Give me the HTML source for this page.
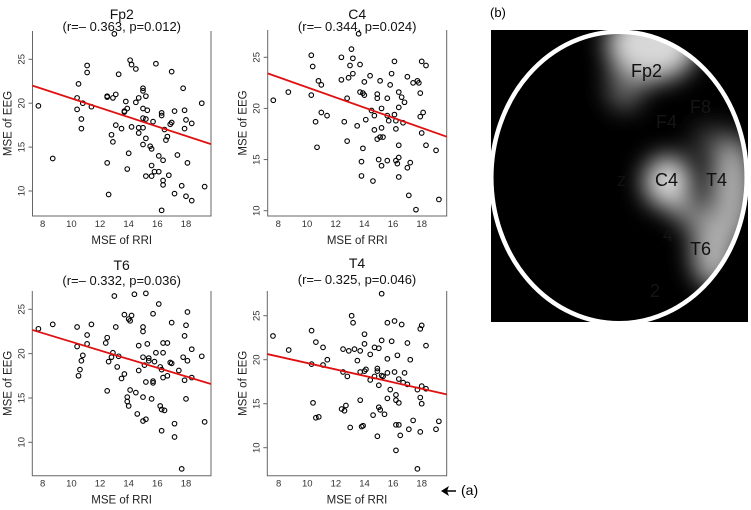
<!DOCTYPE html>
<html><head><meta charset="utf-8"><style>
html,body{margin:0;padding:0;background:#fff;}
svg{display:block;font-family:"Liberation Sans",sans-serif;}
</style></head><body>
<svg id="fig" width="751" height="510" viewBox="0 0 751 510">
<defs>
<filter id="blur" x="-50%" y="-50%" width="200%" height="200%"><feGaussianBlur stdDeviation="12"/></filter>
<clipPath id="headclip"><ellipse cx="619" cy="177.5" rx="127.7" ry="145.8"/></clipPath>
</defs>
<g id="panels"></g>
<g>
<rect x="491" y="30" width="257" height="292" fill="#000"/>
<g clip-path="url(#headclip)" filter="url(#blur)">
<ellipse cx="652" cy="45" rx="45" ry="36" fill="#d8d8d8"/>
<ellipse cx="625" cy="88" rx="18" ry="22" fill="#666"/>
<ellipse cx="668" cy="182" rx="24" ry="26" fill="#d8d8d8"/>
<ellipse cx="732" cy="190" rx="22" ry="55" fill="#aaa"/>
<ellipse cx="714" cy="252" rx="22" ry="36" fill="#b0b0b0"/>
<ellipse cx="692" cy="215" rx="18" ry="14" fill="#888"/>
<ellipse cx="712" cy="140" rx="20" ry="14" fill="#444"/>
</g>
<ellipse cx="619" cy="177.5" rx="127.7" ry="145.8" fill="none" stroke="#fff" stroke-width="4.5"/>
<g font-family="Liberation Sans, DejaVu Sans, sans-serif" font-size="18" fill="#111">
<text x="631" y="77">Fp2</text>
<text x="655" y="186">C4</text>
<text x="706" y="186">T4</text>
<text x="690" y="255">T6</text>
<text x="656" y="128" fill="#151515">F4</text>
<text x="690" y="113" fill="#151515">F8</text>
<text x="617" y="186" fill="#111">z</text>
<text x="663" y="241" fill="#151515">4</text>
<text x="650" y="297" fill="#151515">2</text>
</g>
</g>
<text x="490" y="17" font-size="13" fill="#000">(b)</text>
<text x="461" y="495" font-size="14" fill="#000">(a)</text>
<g>
<line x1="443" y1="491" x2="456" y2="491" stroke="#000" stroke-width="1.5"/>
<path d="M441 491 L449 486 L447 491 L449 496 Z" fill="#000"/>
</g>
</svg>
<script>
// Panel data
const panelNames = ["Fp2","C4","T6","T4"];
const panelStats = ["(r=\u2013 0.363, p=0.012)","(r=\u2013 0.344, p=0.024)","(r=\u2013 0.332, p=0.036)","(r=\u2013 0.325, p=0.046)"];
const fitIntercept = [25.9, 27.03, 26.23, 23.27];
const fitSlope = [-0.535, -0.496, -0.489, -0.365];
const xTicks = [8,10,12,14,16,18];
const yTicks = [10,15,20,25];

const fp2X = [7.7,8.7,10.4,10.4,10.5,10.7,10.7,10.8,11.1,11.1,11.4,12.5,12.5,12.5,12.6,12.8,12.9,12.9,13.1,13.1,13.0,13.3,13.5,13.7,13.7,13.8,13.9,13.9,14.0,14.1,14.2,14.2,14.5,14.5,14.7,14.7,14.7,15.0,15.0,15.0,15.0,15.0,15.0,15.2,15.2,15.2,15.2,15.3,15.5,15.6,15.6,15.6,15.7,15.8,15.9,16.1,16.1,16.3,16.3,16.3,16.4,16.4,16.4,16.5,16.6,16.7,16.8,17.0,17.0,16.9,17.2,17.2,17.4,17.7,17.8,17.9,17.9,18.0,18.0,18.1,18.4,18.4,19.1,19.3];
const fp2Y = [19.7,13.7,20.6,19.3,22.2,18.2,17.1,20.0,24.3,23.5,19.6,20.8,20.7,13.2,9.6,16.4,20.6,15.6,21.0,17.5,27.9,23.3,17.1,19.1,19.0,20.2,19.4,12.5,14.3,24.9,24.4,17.3,23.9,20.1,20.6,17.2,16.6,21.7,21.4,18.3,17.2,15.3,19.4,20.8,18.2,16.0,11.7,19.2,15.1,14.8,12.9,11.7,17.9,12.2,24.5,12.2,14.0,18.9,18.6,7.8,11.2,10.7,13.5,17.0,15.8,16.2,11.8,23.6,17.8,17.6,9.7,19.1,14.1,10.6,21.7,19.2,17.1,9.4,18.1,13.2,17.7,8.9,20.0,10.5];

const c4X = [7.65,8.7,10.3,10.4,10.3,10.8,11.0,10.6,10.7,11.0,11.4,12.4,12.4,12.6,12.8,12.8,12.9,13.0,13.1,13.2,13.2,13.6,13.5,13.7,13.7,13.9,14.0,13.9,13.8,13.8,14.0,14.1,14.4,14.5,14.7,14.6,14.7,14.9,14.9,14.9,15.1,15.3,15.2,15.1,15.2,15.0,15.2,15.6,15.6,15.7,15.6,15.8,15.9,16.1,16.1,16.2,16.2,16.3,16.2,16.4,16.4,16.4,16.4,16.4,16.6,16.7,16.8,17.0,17.0,17.2,17.1,17.4,17.7,17.6,17.8,17.9,17.9,18.0,18.0,18.1,18.3,18.3,19.0,19.2];
const c4Y = [20.8,21.6,25.2,24.1,21.3,22.7,22.3,18.7,16.2,19.6,19.3,22.8,25.0,18.7,21.0,16.8,23.0,24.2,25.8,23.4,24.9,27.3,18.3,21.6,24.3,21.5,21.3,16.1,14.8,13.4,22.6,18.9,23.2,19.8,19.3,12.9,17.9,21.4,21.0,17.0,17.2,17.2,18.1,22.7,20.0,15.0,14.4,21.0,19.3,18.8,14.9,22.3,23.4,24.6,19.4,18.0,18.8,14.6,14.9,20.1,21.6,16.4,15.2,13.3,21.1,18.6,20.6,23.1,14.2,14.7,11.5,22.5,22.7,10.1,22.5,21.5,19.2,24.6,17.6,19.6,24.2,16.4,15.9,11.1];

const t6X = [7.7,8.7,10.4,10.4,10.5,10.6,10.7,10.8,11.1,11.1,11.4,12.4,12.5,12.5,12.6,12.8,12.9,13.0,13.1,13.2,13.3,13.5,13.7,13.7,14.0,14.2,14.1,14.1,13.9,13.9,14.0,14.5,14.4,14.6,14.7,14.7,15.0,15.0,15.0,15.0,15.0,15.1,15.2,15.2,15.3,15.2,15.4,15.4,15.6,15.7,15.7,15.7,15.8,15.9,16.1,16.2,16.2,16.3,16.3,16.3,16.4,16.4,16.4,16.5,16.7,16.7,16.9,17.0,17.0,17.2,17.2,17.5,17.7,17.8,17.9,17.9,18.0,18.1,18.0,18.1,18.4,18.4,19.1,19.3];
const t6Y = [22.8,23.3,23.0,20.8,17.5,18.2,19.2,19.8,22.1,21.1,23.3,21.2,21.8,15.8,19.1,19.6,20.1,26.5,23.0,18.5,19.7,17.2,24.4,17.7,23.9,24.3,23.7,15.9,15.1,14.6,14.1,15.6,26.7,13.2,18.1,20.9,23.0,22.5,19.6,15.1,12.4,18.7,12.6,16.8,21.1,26.8,19.2,19.5,14.9,16.9,24.5,16.7,19.1,20.1,25.6,18.5,14.1,13.7,11.3,18.2,21.2,20.1,17.3,13.6,21.2,17.5,19.0,18.9,23.5,12.1,10.6,18.1,7.0,19.6,22.0,17.0,23.2,24.7,14.9,19.2,20.5,17.3,19.7,12.3];

const t4X = [7.6,8.7,10.3,10.3,10.4,10.6,10.6,10.8,11.1,11.1,11.4,12.4,12.5,12.5,12.6,12.7,12.8,12.9,13.0,13.1,13.2,13.3,13.5,13.7,13.7,13.7,13.8,13.9,14.0,14.0,14.1,14.0,14.4,14.4,14.6,14.7,14.7,15.0,14.9,14.9,15.0,14.9,15.0,15.1,15.2,15.2,15.2,15.3,15.4,15.6,15.6,15.6,15.6,15.8,15.9,16.1,16.1,16.2,16.2,16.2,16.2,16.3,16.4,16.4,16.4,16.5,16.6,16.7,16.8,17.0,17.0,17.1,17.2,17.4,17.7,17.7,17.9,17.9,18.0,17.9,18.0,18.0,18.3,18.3,19.0,19.2];
const t4Y = [22.7,21.1,23.3,19.5,15.1,22.0,13.4,13.5,21.4,19.4,20.0,14.4,21.2,18.6,14.2,14.8,18.1,21.0,12.3,25.0,24.2,21.2,19.9,21.0,18.6,15.4,12.4,12.5,22.9,21.8,18.9,18.7,20.6,17.7,13.7,18.1,21.4,21.3,19.0,18.7,14.6,11.3,17.1,14.3,27.5,22.2,18.2,18.1,13.8,24.2,20.1,18.5,15.6,16.6,22.1,24.4,18.6,16.0,15.4,12.6,9.7,20.5,17.8,15.1,12.6,11.4,24.0,17.4,18.5,21.9,17.2,12.1,20.0,13.1,7.6,16.6,11.8,23.5,23.9,15.7,15.0,17.0,16.7,21.6,12.1,13.0];

const seriesX = [fp2X, c4X, t6X, t4X];
const seriesY = [fp2Y, c4Y, t6Y, t4Y];

// layout (pixel geometry, not data)
const layout = [
  {x8:42.7,x18:186,y25:59.3,y10:191,L:32.5,R:211,T:31,B:216,titleY:19,subY:31},
  {x8:278.3,x18:421.7,y25:57.3,y10:210.7,L:267.7,R:446.7,T:30,B:216,titleY:19,subY:31},
  {x8:42.7,x18:186,y25:309.3,y10:442.3,L:32.3,R:211,T:291,B:475.7,titleY:270,subY:285},
  {x8:278.7,x18:421.7,y25:315.7,y10:447.7,L:267.3,R:446.7,T:291,B:475.7,titleY:268,subY:284}
];
const NS = "http://www.w3.org/2000/svg";
const root = document.getElementById("panels");
function mk(tag, attrs, parent){const e=document.createElementNS(NS,tag);for(const k in attrs)e.setAttribute(k,attrs[k]);parent.appendChild(e);return e;}

layout.forEach((g,i)=>{
  const xs = v => g.x8 + (v-8)*(g.x18-g.x8)/10;
  const ys = v => g.y10 - (v-10)*(g.y10-g.y25)/15;
  const pan = mk("g",{},root);
  
  
  const cx=(g.L+g.R)/2;
  const t = mk("text",{x:cx,y:g.titleY,"text-anchor":"middle","font-size":"14",fill:"#111"},pan);
  t.textContent = panelNames[i];
  
  
  const s = mk("text",{x:cx,y:g.subY,"text-anchor":"middle","font-size":"13",fill:"#111"},pan);
  s.textContent = panelStats[i];
  
  
  const ax = mk("path",{d:`M${g.L} ${g.T} V${g.B} H${g.R} V${g.T}`,fill:"none",stroke:"#666","stroke-width":"1"},pan);
  
  
  xTicks.forEach(v=>{
    const tl = mk("text",{x:xs(v),y:g.B+11,"text-anchor":"middle","font-size":"9.5",fill:"#333"},pan);
    tl.textContent = v;
    
    
  });
  yTicks.forEach(v=>{
    const y=ys(v);
    const tk = mk("line",{x1:g.L-4,x2:g.L,y1:y,y2:y,stroke:"#666"},pan);
    
    
    const tl = mk("text",{x:0,y:0,"text-anchor":"middle","font-size":"9.5",fill:"#333",transform:`translate(${g.L-8},${y}) rotate(-90)`},pan);
    tl.textContent = v;
    
    
  });
  const xt = mk("text",{x:cx,y:g.B+28,"text-anchor":"middle","font-size":"11.5",fill:"#222"},pan);
  xt.textContent = "MSE of RRI";
  
  
  const yt = mk("text",{x:0,y:0,"text-anchor":"middle","font-size":"11.5",fill:"#222",transform:`translate(${g.L-21},${(g.T+g.B)/2}) rotate(-90)`},pan);
  yt.textContent = "MSE of EEG";
  
  
  const X=seriesX[i], Y=seriesY[i];
  X.forEach((xv,j)=>{
    const c = mk("circle",{cx:xs(xv),cy:ys(Y[j]),r:2.3,fill:"none",stroke:"#000","stroke-width":"1.1"},pan);
    
    
  });
  const xl0 = 8-(g.x8-g.L)*10/(g.x18-g.x8), xl1 = 8+(g.R-g.x8)*10/(g.x18-g.x8);
  const fl = mk("line",{x1:g.L,y1:ys(fitIntercept[i]+fitSlope[i]*xl0),x2:g.R,y2:ys(fitIntercept[i]+fitSlope[i]*xl1),stroke:"#e01010","stroke-width":"1.8"},pan);
  
  
});
</script>
</body></html>
